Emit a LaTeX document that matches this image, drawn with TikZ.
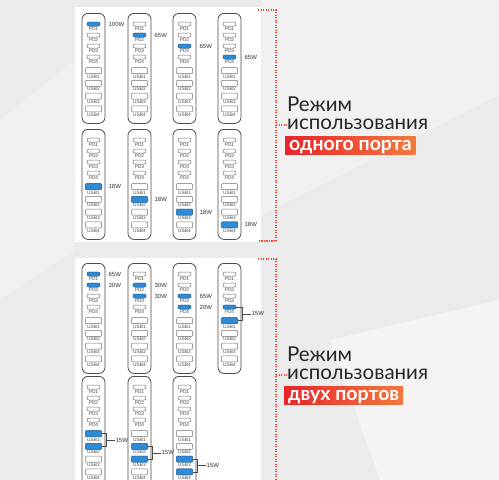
\documentclass[tikz,border=0pt]{standalone}
\usepackage{fontspec}
\setmainfont{Liberation Sans}
\newfontfamily\headfont{Lato}
\usetikzlibrary{calc,positioning}
\definecolor{portblue}{HTML}{2E8BD8}
\definecolor{accent}{HTML}{E8462E}
\definecolor{badgered}{HTML}{E8252B}
\definecolor{badgeorange}{HTML}{F37A3E}
\definecolor{paper}{HTML}{EBEBEB}

\begin{document}
\begin{tikzpicture}[
    x=1pt, y=-1pt,
    panel/.style={fill=white},
    charger/.style={draw=black!70, line width=0.8pt, rounded corners=6pt, fill=white,
                    minimum width=23pt, minimum height=110pt, inner sep=0pt, anchor=north},
    pd/.style={draw=black!55, line width=0.5pt, rounded corners=2pt, fill=white,
               minimum width=13pt, minimum height=4pt, inner sep=0pt},
    usb/.style={draw=black!55, line width=0.5pt, rounded corners=0.8pt, fill=white,
                minimum width=16pt, minimum height=6pt, inner sep=0pt},
    on/.style={fill=portblue, draw=portblue!75!black},
    tag/.style={font=\fontsize{4.8}{4.8}\selectfont, text=black!70, inner sep=0pt},
    watt/.style={font=\fontsize{6}{6}\selectfont, text=black!80, inner sep=0pt,
                 anchor=west, xshift=3pt},
    bracket/.style={draw=black!70, line width=0.5pt},
    guide/.style={draw=accent, line width=1.3pt, dash pattern=on 1.3pt off 1.2pt},
    heading/.style={font=\headfont\fontsize{20.5}{18.5}\selectfont, text=black!85,
                    inner sep=0pt, align=left, anchor=south west},
    badge/.style={font=\headfont\bfseries\fontsize{19.5}{19.5}\selectfont, text=white,
                  left color=badgered, right color=badgeorange, anchor=north west,
                  minimum height=18.5pt, text height=13pt, text depth=3.5pt,
                  inner xsep=4pt, inner ysep=0pt}
]
\clip (0,0) rectangle (499,480);

% background
\fill[paper] (0,0) rectangle (499,480);
\fill[white, opacity=0.35] (262,0) -- (499,0) -- (499,95) -- (262,215) -- cycle;
\fill[white, opacity=0.45] (330,340) -- (499,300) -- (499,480) -- (380,480) -- cycle;
\fill[white, opacity=0.25] (0,120) -- (75,60) -- (75,250) -- (0,300) -- cycle;
\fill[panel] (75,7) rectangle (261,242);
\fill[panel] (75,258) rectangle (261,480);

% chargers
\foreach \c/\x/\t in {c11/93.5/13, c12/139.5/13, c13/184.5/13, c14/229.5/13,
                      c21/93.5/129, c22/139.5/129, c23/184.5/129, c24/229.5/129,
                      c31/93.5/263, c32/139.5/263, c33/184.5/263, c34/229.5/263,
                      c41/93.5/376, c42/139.5/376, c43/184.5/376} {
  \node[charger] (\c) at (\x,\t) {};
  \foreach \i in {1,...,4} {
    \node[pd] (\c-pd\i) at ($(\c.north)+(0,11*\i)$) {};
    \node[tag, below=0.5pt of \c-pd\i] (\c-pd\i-tag) {PD\i};
  }
  \foreach \i in {1,...,4} {
    \node[usb] (\c-usb\i) at ($(\c.north)+(0,45+12.7*\i)$) {};
    \node[tag, below=0.5pt of \c-usb\i] (\c-usb\i-tag) {USB\i};
  }
}

% ports in use
\foreach \s in {c11-pd1, c12-pd2, c13-pd3, c14-pd4, c31-pd1, c31-pd2,
                c32-pd2, c32-pd3, c33-pd3, c33-pd4, c34-pd4}
  \node[pd, on] (\s-on) at (\s) {};
\foreach \s in {c21-usb1, c22-usb2, c23-usb3, c24-usb4, c34-usb1, c41-usb1,
                c41-usb2, c42-usb2, c42-usb3, c43-usb3, c43-usb4}
  \node[usb, on] (\s-on) at (\s) {};

% power per port
\foreach \s/\c/\w in {c11-pd1/c11/100W, c12-pd2/c12/65W, c13-pd3/c13/65W, c14-pd4/c14/65W,
                      c21-usb1/c21/18W, c22-usb2/c22/18W, c23-usb3/c23/18W, c24-usb4/c24/18W,
                      c31-pd1/c31/65W, c31-pd2/c31/30W, c32-pd2/c32/30W, c32-pd3/c32/30W,
                      c33-pd3/c33/65W, c33-pd4/c33/20W}
  \node[watt] (\s-w) at (\s -| \c.east) {\w};

% shared ports
\foreach \a/\b/\c in {c34-pd4/c34-usb1/c34, c41-usb1/c41-usb2/c41,
                      c42-usb2/c42-usb3/c42, c43-usb3/c43-usb4/c43} {
  \coordinate (\c-ba) at ([xshift=1pt]\a -| \c.east);
  \coordinate (\c-bb) at ([xshift=1pt]\b -| \c.east);
  \draw[bracket] (\a.east) -- (\c-ba) -- (\c-bb) -- (\b.east);
  \coordinate (\c-bm) at ($(\c-ba)!0.5!(\c-bb)$);
  \node[watt, xshift=2pt] (\c-w) at ([xshift=4pt]\c-bm) {15W};
  \draw[bracket] (\c-bm) -- (\c-w.west);
}

% captions
\node[heading] (mode1-txt) at (287,130.2) {Режим\\использования};
\node[badge] (mode1-badge) at (285,136) {одного порта};
\coordinate (mode1-mid) at ($(mode1-txt.south west)+(0,-5.3)$);
\node[heading] (mode2-txt) at (287,380.2) {Режим\\использования};
\node[badge] (mode2-badge) at (284,386) {двух портов};
\coordinate (mode2-mid) at ($(mode2-txt.south west)+(0,-5.3)$);

% guides
\coordinate (g1a) at (258,10);
\coordinate (g1b) at (276,10);
\coordinate (g1c) at (276,241);
\coordinate (g1d) at (258,241);
\draw[guide] (g1a) -- (g1b) -- (g1c) -- (g1d);
\draw[guide] (mode1-mid -| g1b) -- (mode1-mid);
\coordinate (g2a) at (258,259);
\coordinate (g2b) at (276,259);
\coordinate (g2c) at (276,482);
\draw[guide] (g2a) -- (g2b) -- (g2c);
\draw[guide] (mode2-mid -| g2b) -- (mode2-mid);
\end{tikzpicture}
\end{document}
